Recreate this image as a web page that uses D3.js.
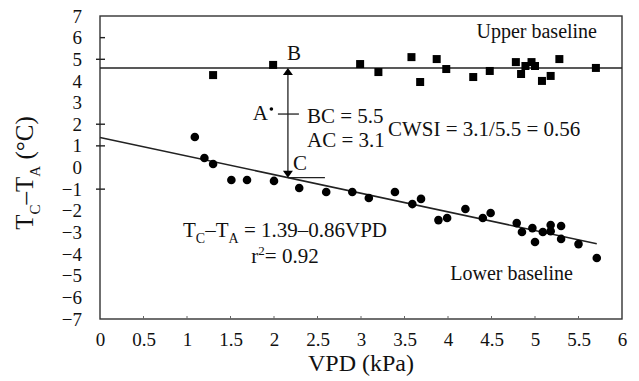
<!DOCTYPE html>
<html>
<head>
<meta charset="utf-8">
<script src="https://cdn.jsdelivr.net/npm/d3@7"></script>
<style>
  body { margin: 0; background: #fff; }
  svg text { font-family: "Liberation Serif", "DejaVu Serif", serif; fill: #111; }
</style>
</head>
<body>
<div id="wrapper"></div>
<script>
// data
const xTicks = [0, 0.5, 1, 1.5, 2, 2.5, 3, 3.5, 4, 4.5, 5, 5.5, 6];
const yTicks = [7, 6, 5, 4, 3, 2, 1, 0, -1, -2, -3, -4, -5, -6, -7];
const yTickMarks = [6, 5, 2, 1, -1];

// upper baseline (non-transpiring) points
const upperX = [1.3, 1.99, 2.99, 3.2, 3.58, 3.68, 3.87, 3.98, 4.29, 4.48, 4.78, 4.84, 4.89, 4.96, 5.0, 5.08, 5.18, 5.28, 5.7];
const upperY = [4.27, 4.74, 4.78, 4.41, 5.1, 3.95, 5.01, 4.55, 4.18, 4.46, 4.87, 4.32, 4.69, 4.87, 4.69, 4.0, 4.23, 5.01, 4.6];

// lower baseline (well watered) points
const lowerX = [1.09, 1.2, 1.3, 1.51, 1.69, 2.0, 2.29, 2.6, 2.9, 3.09, 3.39, 3.59, 3.69, 3.89, 3.99, 4.2, 4.4, 4.49, 4.79, 4.85, 4.97, 5.0, 5.09, 5.18, 5.18, 5.3, 5.3, 5.5, 5.71];
const lowerY = [1.41, 0.44, 0.16, -0.58, -0.58, -0.62, -0.95, -1.13, -1.13, -1.41, -1.13, -1.69, -1.45, -2.43, -2.33, -1.92, -2.33, -2.1, -2.57, -2.98, -2.8, -3.44, -2.98, -2.66, -2.94, -2.7, -3.3, -3.54, -4.18];

const upperLine = [[0, 4.6], [6, 4.6]];
const fitLine = [[0, 1.39], [5.71, -3.52]];
const pointA = [1.97, 2.7];
const arrowX = 2.16;
const pointB = 4.6;
const pointC = -0.47;
const crossY = 2.47;

const width = 639, height = 381;
const margin = { top: 16, right: 17, bottom: 62, left: 100 };

const svg = d3.select('#wrapper').append('svg')
  .attr('width', width)
  .attr('height', height);

const xScale = d3.scaleLinear().domain([0, 6]).range([margin.left, width - margin.right]);
const yScale = d3.scaleLinear().domain([-7, 7]).range([height - margin.bottom, margin.top]);

const ink = '#222';

// axes (labels only, the box is drawn separately)
const xAxis = svg.append('g')
  .attr('transform', `translate(0,${height - margin.bottom})`)
  .call(d3.axisBottom(xScale).tickValues(xTicks).tickFormat(d3.format('')).tickSize(0).tickPadding(14));
xAxis.select('.domain').remove();
xAxis.selectAll('text').style('font-size', '19px').style('font-family', null);

const yAxis = svg.append('g')
  .attr('transform', `translate(${margin.left},0)`)
  .call(d3.axisLeft(yScale).tickValues(yTicks).tickSize(0).tickPadding(18));
yAxis.select('.domain').remove();
yAxis.selectAll('text').style('font-size', '19px').style('font-family', null);

// frame
svg.append('rect')
  .attr('x', xScale(0)).attr('y', yScale(7))
  .attr('width', xScale(6) - xScale(0))
  .attr('height', yScale(-7) - yScale(7))
  .attr('fill', 'none').attr('stroke', '#333').attr('stroke-width', 1.4);

// tick marks
svg.append('g').selectAll('line').data(yTickMarks).join('line')
  .attr('x1', d => (d === 6 ? xScale(0) : xScale(0) - 4))
  .attr('x2', xScale(0) + 5)
  .attr('y1', d => yScale(d)).attr('y2', d => yScale(d))
  .attr('stroke', ink).attr('stroke-width', 1.4);

svg.append('g').selectAll('line').data(xTicks.slice(1, -1)).join('line')
  .attr('x1', d => xScale(d)).attr('x2', d => xScale(d))
  .attr('y1', yScale(-7)).attr('y2', yScale(-7) - 3)
  .attr('stroke', '#666').attr('stroke-width', 1);

const line = d3.line().x(d => xScale(d[0])).y(d => yScale(d[1]));

svg.append('path').attr('d', line(upperLine))
  .attr('fill', 'none').attr('stroke', ink).attr('stroke-width', 1.5);
svg.append('path').attr('d', line(fitLine))
  .attr('fill', 'none').attr('stroke', ink).attr('stroke-width', 1.5);

// points
svg.append('g').selectAll('rect').data(upperX).join('rect')
  .attr('x', (d) => xScale(d) - 4)
  .attr('y', (d, i) => yScale(upperY[i]) - 4)
  .attr('width', 8).attr('height', 8)
  .attr('fill', '#000');

svg.append('g').selectAll('circle').data(lowerX).join('circle')
  .attr('cx', (d) => xScale(d))
  .attr('cy', (d, i) => yScale(lowerY[i]))
  .attr('r', 4.3)
  .attr('fill', '#000');

svg.append('circle')
  .attr('cx', xScale(pointA[0])).attr('cy', yScale(pointA[1]))
  .attr('r', 1.8).attr('fill', '#000');

// B-C arrow
const ax = xScale(arrowX);
svg.append('line')
  .attr('x1', ax).attr('x2', ax)
  .attr('y1', yScale(pointB) + 4).attr('y2', yScale(pointC) - 4)
  .attr('stroke', ink).attr('stroke-width', 1.3);
svg.append('path')
  .attr('d', `M${ax},${yScale(pointB)} l-5,7 l10,0 z`)
  .attr('fill', '#000');
svg.append('path')
  .attr('d', `M${ax},${yScale(pointC)} l-5,-7 l10,0 z`)
  .attr('fill', '#000');
svg.append('line')
  .attr('x1', ax).attr('x2', ax + 37)
  .attr('y1', yScale(pointC)).attr('y2', yScale(pointC))
  .attr('stroke', ink).attr('stroke-width', 1.3);
svg.append('line')
  .attr('x1', ax - 10).attr('x2', ax + 11)
  .attr('y1', yScale(crossY)).attr('y2', yScale(crossY))
  .attr('stroke', ink).attr('stroke-width', 1.3);

// annotations
const label = (x, y, txt, size, anchor) => svg.append('text')
  .attr('x', x).attr('y', y)
  .attr('text-anchor', anchor || 'start')
  .style('font-size', size + 'px')
  .text(txt);

label(268, 120, 'A', 21, 'end');
label(287, 60, 'B', 21);
label(293, 170, 'C', 21);
label(307, 123, 'BC = 5.5', 21);
label(307, 147, 'AC = 3.1', 21);
label(388, 136, 'CWSI = 3.1/5.5 = 0.56', 21);
label(597, 38, 'Upper baseline', 20, 'end');
label(573, 280, 'Lower baseline', 20, 'end');

const eq = svg.append('text')
  .attr('x', 285).attr('y', 237)
  .attr('text-anchor', 'middle')
  .style('font-size', '21px');
eq.append('tspan').text('T');
eq.append('tspan').attr('dy', 6).style('font-size', '14px').text('C');
eq.append('tspan').attr('dy', -6).text('\u2013T');
eq.append('tspan').attr('dy', 6).style('font-size', '14px').text('A');
eq.append('tspan').attr('dy', -6).text(' = 1.39\u20130.86VPD');

const r2 = svg.append('text')
  .attr('x', 285).attr('y', 263)
  .attr('text-anchor', 'middle')
  .style('font-size', '21px');
r2.append('tspan').text('r');
r2.append('tspan').attr('dy', -8).style('font-size', '13px').text('2');
r2.append('tspan').attr('dy', 8).text('= 0.92');

// axis titles
svg.append('text')
  .attr('x', 361).attr('y', 371)
  .attr('text-anchor', 'middle')
  .style('font-size', '24px')
  .text('VPD (kPa)');

const yTitle = svg.append('text')
  .attr('transform', 'translate(33,173) rotate(-90)')
  .attr('text-anchor', 'middle')
  .style('font-size', '25px');
yTitle.append('tspan').text('T');
yTitle.append('tspan').attr('dy', 7).style('font-size', '15px').text('C');
yTitle.append('tspan').attr('dy', -7).text('\u2013T');
yTitle.append('tspan').attr('dy', 7).style('font-size', '15px').text('A');
yTitle.append('tspan').attr('dy', -7).text(' (\u00B0C)');
</script>
</body>
</html>
